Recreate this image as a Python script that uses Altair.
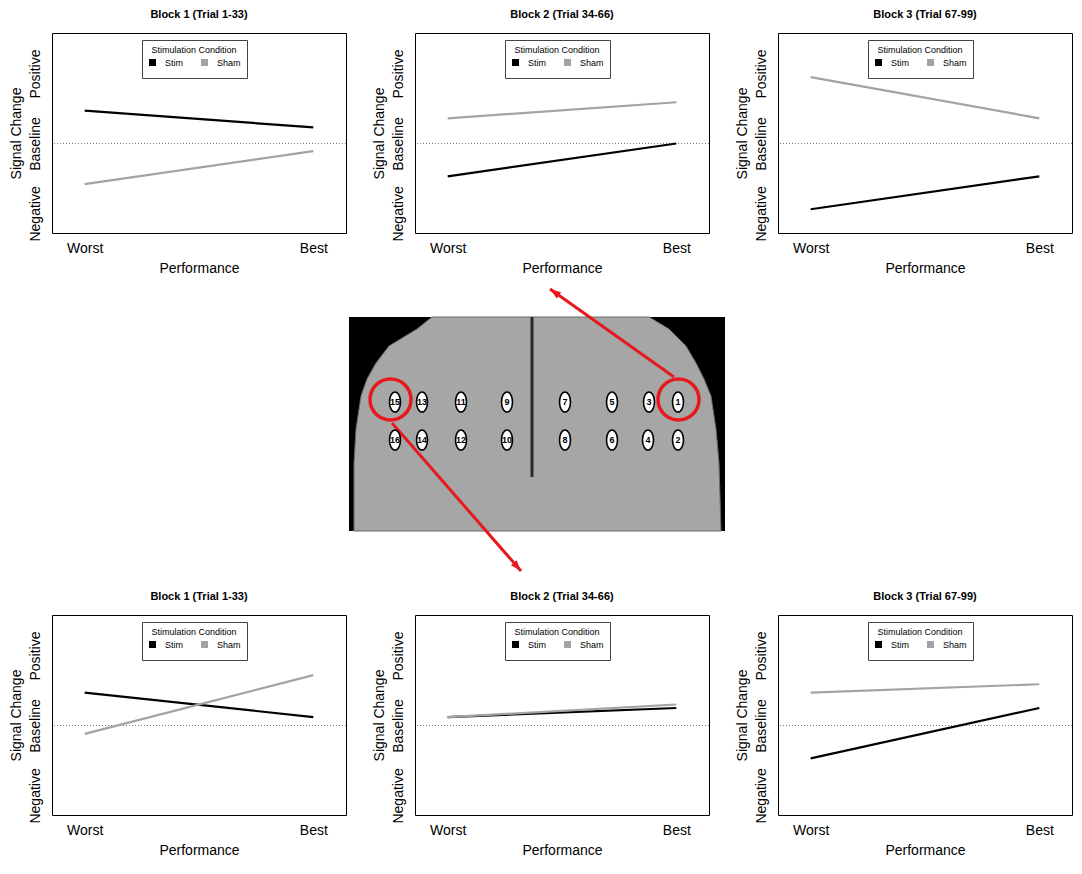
import math
import json
import altair as alt
import pandas as pd

# ---------------- data ----------------
panel_titles = ["Block 1 (Trial 1-33)", "Block 2 (Trial 34-66)", "Block 3 (Trial 67-99)"]
conditions = ["Stim", "Sham"]
perf_positions = [0, 1]
perf_labels = ["Worst", "Best"]
signal_positions = [-1, 0, 1]
signal_labels = ["Negative", "Baseline", "Positive"]

# signal change at [Worst, Best] for each block
top_stim = [[0.47, 0.23], [-0.47, 0.00], [-0.94, -0.47]]
top_sham = [[-0.58, -0.11], [0.36, 0.59], [0.95, 0.36]]
bot_stim = [[0.47, 0.12], [0.12, 0.25], [-0.47, 0.25]]
bot_sham = [[-0.12, 0.72], [0.12, 0.30], [0.47, 0.59]]

# brain photo (image pixel coordinates, origin top-left)
photo_x = [0]
photo_x2 = [376]
photo_y = [0]
photo_y2 = [214]
brain_y = [0, 12, 29, 46, 62, 79, 112, 146, 214]
brain_left = [83, 68, 40, 27, 18, 12, 7, 5, 5]
brain_right = [300, 320, 337, 347, 355, 362, 367, 370, 372]
midline_x = [183]
midline_y = [0]
midline_y2 = [160]

electrode_ids = ["15", "13", "11", "9", "7", "5", "3", "1",
                 "16", "14", "12", "10", "8", "6", "4", "2"]
electrode_x = [46, 73, 112, 158, 216, 263, 300, 329,
               46, 73, 112, 158, 216, 263, 299, 329]
electrode_y = [85, 85, 85, 85, 85, 85, 85, 85,
               123, 123, 123, 123, 123, 123, 123, 123]

circle_x = [41.5, 329.5]
circle_y = [82.5, 82.5]

arrow_x0 = [325, 43]
arrow_y0 = [60, 106]
arrow_x1 = [201, 172]
arrow_y1 = [-28, 254]

# ---------------- styling ----------------
FONT = "Liberation Sans"
W, H = 294, 200
MID_H = 360
RED = "#e8191e"
STIM_COL = "#000000"
SHAM_COL = "#a3a3a3"

x_label_expr = f"{json.dumps(perf_labels)}[indexof({json.dumps(perf_positions)}, datum.value)]"
y_label_expr = f"{json.dumps(signal_labels)}[indexof({json.dumps(signal_positions)}, datum.value)]"

x_scale = alt.Scale(domain=[-0.143, 1.143], nice=False, zero=False)
y_scale = alt.Scale(domain=[-1.28, 1.58], nice=False, zero=False)

x_axis = alt.Axis(values=perf_positions, labelExpr=x_label_expr, title="Performance",
                  ticks=False, tickSize=0, domain=False, grid=False, labelPadding=8,
                  labelFlush=False, labelOverlap=False, titlePadding=6,
                  labelFontSize=14, titleFontSize=14, titleFontWeight="normal",
                  labelColor="black", titleColor="black", labelFont=FONT, titleFont=FONT)
y_axis = alt.Axis(values=signal_positions, labelExpr=y_label_expr, title="Signal Change",
                  ticks=False, tickSize=0, domain=False, grid=False,
                  labelAngle=270, labelAlign="center", labelBaseline="alphabetic",
                  labelPadding=13, labelFlush=False, labelOverlap=False, titlePadding=5,
                  labelFontSize=14, titleFontSize=14, titleFontWeight="normal",
                  labelColor="black", titleColor="black", labelFont=FONT, titleFont=FONT)

legend = alt.Legend(orient="none", legendX=90, legendY=7, direction="horizontal",
                    title="Stimulation Condition", titleFontSize=9, titleFontWeight="normal",
                    titleFont=FONT, titleColor="black", titleAnchor="middle", titlePadding=3,
                    labelFontSize=9, labelFont=FONT, labelColor="black", labelOffset=8,
                    columnPadding=12, padding=6, strokeColor="#444444", fillColor="white",
                    symbolType="square", symbolSize=9, symbolStrokeWidth=4)


def panel(title, stim, sham):
    df = pd.DataFrame({
        "perf": perf_positions + perf_positions,
        "signal": stim + sham,
        "cond": [conditions[0]] * 2 + [conditions[1]] * 2,
    })
    base_df = pd.DataFrame({"signal": [signal_positions[1]]})
    rule = alt.Chart(base_df).mark_rule(strokeDash=[1, 2], color="#777777", strokeWidth=1).encode(
        y=alt.Y("signal:Q", scale=y_scale, axis=y_axis)
    )
    lines = alt.Chart(df).mark_line(strokeWidth=2.2).encode(
        x=alt.X("perf:Q", scale=x_scale, axis=x_axis),
        y=alt.Y("signal:Q", scale=y_scale, axis=y_axis),
        color=alt.Color("cond:N", scale=alt.Scale(domain=conditions, range=[STIM_COL, SHAM_COL]),
                        legend=legend, sort=conditions),
    )
    return alt.layer(rule, lines).properties(
        width=W, height=H,
        title=alt.TitleParams(text=title, fontSize=11, fontWeight="bold", font=FONT,
                              anchor="middle", offset=13, color="black"),
    )


def placeholder():
    return alt.Chart(pd.DataFrame({"v": [0]})).mark_point(opacity=0).encode(
        x=alt.X("v:Q", axis=None), y=alt.Y("v:Q", axis=None)
    ).properties(width=W, height=MID_H, view=alt.ViewBackground(stroke="transparent"))


# middle (brain figure) cell: image pixel coordinates through linear scales
mx = alt.Scale(domain=[66, 66 + W], nice=False, zero=False)
my = alt.Scale(domain=[-73, -73 + MID_H], nice=False, zero=False, reverse=True)

photo = alt.Chart(pd.DataFrame({"x": photo_x, "x2": photo_x2, "y": photo_y, "y2": photo_y2})).mark_rect(
    color="black").encode(
    x=alt.X("x:Q", scale=mx, axis=None), x2="x2:Q",
    y=alt.Y("y:Q", scale=my, axis=None), y2="y2:Q")

brain = alt.Chart(pd.DataFrame({"y": brain_y, "l": brain_left, "r": brain_right})).mark_area(
    orient="horizontal", color="#a6a6a6", stroke="#6a6a6a", strokeWidth=1).encode(
    y=alt.Y("y:Q", scale=my, axis=None),
    x=alt.X("l:Q", scale=mx, axis=None), x2="r:Q")

midline = alt.Chart(pd.DataFrame({"x": midline_x, "y": midline_y, "y2": midline_y2})).mark_rule(
    color="#2a2a2a", strokeWidth=3).encode(
    x=alt.X("x:Q", scale=mx, axis=None),
    y=alt.Y("y:Q", scale=my, axis=None), y2="y2:Q")

ellipse_path = ("M0,-1C0.304,-1,0.55,-0.552,0.55,0C0.55,0.552,0.304,1,0,1"
                "C-0.304,1,-0.55,0.552,-0.55,0C-0.55,-0.552,-0.304,-1,0,-1Z")
edf = pd.DataFrame({"x": electrode_x, "y": electrode_y, "id": electrode_ids})
electrodes = alt.Chart(edf).mark_point(shape=ellipse_path, size=400, filled=True, fill="white",
                                       stroke="black", strokeWidth=1.6, opacity=1).encode(
    x=alt.X("x:Q", scale=mx, axis=None), y=alt.Y("y:Q", scale=my, axis=None))
enum = alt.Chart(edf).mark_text(fontSize=9, fontWeight="bold", font=FONT, color="black",
                                align="center", baseline="middle").encode(
    x=alt.X("x:Q", scale=mx, axis=None), y=alt.Y("y:Q", scale=my, axis=None), text="id:N")

circles = alt.Chart(pd.DataFrame({"x": circle_x, "y": circle_y})).mark_point(
    shape="circle", size=1681, filled=False, stroke=RED, strokeWidth=3.5, opacity=1).encode(
    x=alt.X("x:Q", scale=mx, axis=None), y=alt.Y("y:Q", scale=my, axis=None))

adf = pd.DataFrame({"x0": arrow_x0, "y0": arrow_y0, "x1": arrow_x1, "y1": arrow_y1})
adf["ang"] = [math.degrees(math.atan2(x1 - x0, -(y1 - y0))) % 360
              for x0, y0, x1, y1 in zip(arrow_x0, arrow_y0, arrow_x1, arrow_y1)]
arrows = alt.Chart(adf).mark_rule(color=RED, strokeWidth=3).encode(
    x=alt.X("x0:Q", scale=mx, axis=None), y=alt.Y("y0:Q", scale=my, axis=None),
    x2="x1:Q", y2="y1:Q")
heads = alt.Chart(adf).mark_point(shape="M0,0L0.55,1.6L-0.55,1.6Z", size=190, filled=True,
                                  fill=RED, strokeWidth=0, opacity=1).encode(
    x=alt.X("x1:Q", scale=mx, axis=None), y=alt.Y("y1:Q", scale=my, axis=None),
    angle=alt.Angle("ang:Q", scale=None))

middle = alt.layer(photo, brain, midline, arrows, heads, circles, electrodes, enum).properties(
    width=W, height=MID_H, view=alt.ViewBackground(stroke="transparent"))

cells = [
    panel(panel_titles[0], top_stim[0], top_sham[0]),
    panel(panel_titles[1], top_stim[1], top_sham[1]),
    panel(panel_titles[2], top_stim[2], top_sham[2]),
    placeholder(), middle, placeholder(),
    panel(panel_titles[0], bot_stim[0], bot_sham[0]),
    panel(panel_titles[1], bot_stim[1], bot_sham[1]),
    panel(panel_titles[2], bot_stim[2], bot_sham[2]),
]

chart = alt.concat(*cells, columns=3, spacing={"row": 11, "column": 69}, bounds="flush").resolve_scale(
    x="independent", y="independent", color="independent"
).properties(padding=0, background="white").configure_view(stroke="black", strokeWidth=1)

chart.save("out.html", embed_options={"renderer": "svg", "actions": False})
